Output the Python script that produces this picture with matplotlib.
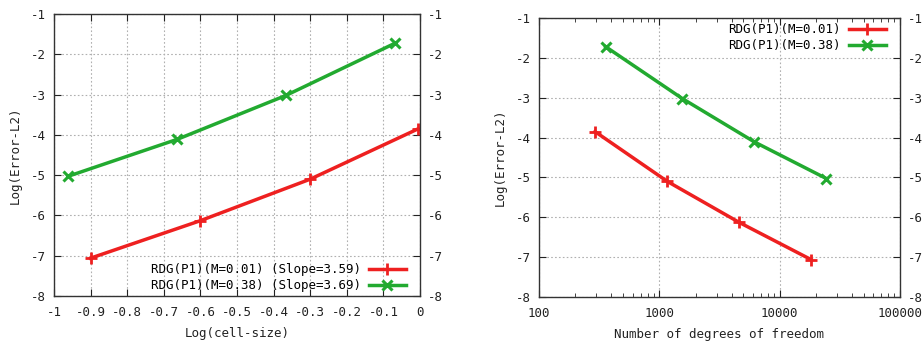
import matplotlib
matplotlib.use("Agg")
import matplotlib.pyplot as plt
from matplotlib.ticker import MultipleLocator, LogLocator, NullFormatter, FixedLocator

# Data
h_m001 = [-0.90, -0.60, -0.30, -0.005]
e_m001 = [-7.06, -6.13, -5.10, -3.85]
h_m038 = [-0.962, -0.663, -0.366, -0.067]
e_m038 = [-5.03, -4.11, -3.02, -1.72]

dof_m001 = [18200, 4620, 1165, 292]
dof_m038 = [24500, 6170, 1550, 358]

labels_left = ["RDG(P1)(M=0.01) (Slope=3.59)", "RDG(P1)(M=0.38) (Slope=3.69)"]
labels_right = ["RDG(P1)(M=0.01)", "RDG(P1)(M=0.38)"]
xticks_left = [-1, -0.9, -0.8, -0.7, -0.6, -0.5, -0.4, -0.3, -0.2, -0.1, 0]
xticks_right = [100, 1000, 10000, 100000]

RED = "#ee2020"
GREEN = "#22aa30"
FONT = "DejaVu Sans Mono"
FS = 9

plt.rcParams['font.family'] = [FONT]
plt.rcParams['font.size'] = FS
plt.rcParams['axes.unicode_minus'] = False

fig = plt.figure(figsize=(9.23, 3.42), dpi=100)

ax1 = fig.add_axes([54/923, 1-296/342, (420-54)/923, (296-14)/342])
ax2 = fig.add_axes([539/923, 1-297/342, (900-539)/923, (297-18)/342])

def style(ax):
    ax.grid(True, which='major', color='#b0b0b0', linestyle=(0, (1.5, 2)), linewidth=0.8)
    ax.tick_params(which='both', direction='in', top=True, right=True,
                   labelright=True, labelsize=FS, colors='#222222')
    ax.tick_params(axis='x', pad=7)
    ax.tick_params(axis='y', pad=6)
    ax.tick_params(which='major', length=5)
    ax.tick_params(which='minor', length=3)
    for s in ax.spines.values():
        s.set_linewidth(1.0)
        s.set_color('#333333')
    ax.set_ylim(-8, -1)
    ax.yaxis.set_major_locator(MultipleLocator(1))
    ax.set_ylabel("Log(Error-L2)", fontsize=FS, color='#222222')

lw = 2.5
ax1.plot(h_m001, e_m001, color=RED, lw=lw, marker='+', ms=8, mew=2, label=labels_left[0])
ax1.plot(h_m038, e_m038, color=GREEN, lw=lw, marker='x', ms=7, mew=2.2, label=labels_left[1])
style(ax1)
ax1.set_xlim(-1, 0)
ax1.set_xticks(xticks_left)
ax1.set_xticklabels([("%g" % t) for t in xticks_left])
ax1.set_xlabel("Log(cell-size)", fontsize=FS, color='#222222', labelpad=6)
ax1.legend(loc='lower right', frameon=False, markerfirst=False, fontsize=FS,
           handlelength=3, handletextpad=0.6, borderaxespad=0.0, labelspacing=0.25,
           borderpad=0.0, bbox_to_anchor=(1 - 14/366, 4/282))

ax2.plot(dof_m001, e_m001, color=RED, lw=lw, marker='+', ms=8, mew=2, label=labels_right[0])
ax2.plot(dof_m038, e_m038, color=GREEN, lw=lw, marker='x', ms=7, mew=2.2, label=labels_right[1])
ax2.set_xscale('log')
style(ax2)
ax2.set_xlim(100, 100000)
ax2.xaxis.set_major_locator(FixedLocator(xticks_right))
ax2.set_xticklabels([str(t) for t in xticks_right])
ax2.xaxis.set_minor_locator(LogLocator(base=10, subs=range(2, 10)))
ax2.xaxis.set_minor_formatter(NullFormatter())
ax2.set_xlabel("Number of degrees of freedom", fontsize=FS, color='#222222', labelpad=6)
ax2.legend(loc='upper right', frameon=False, markerfirst=False, fontsize=FS,
           handlelength=3, handletextpad=0.6, borderaxespad=0.0, labelspacing=0.25,
           borderpad=0.0, bbox_to_anchor=(1 - 14/361, 1 - 5/279))

ax1.yaxis.set_label_coords(-0.087, 0.5)
ax2.yaxis.set_label_coords(-0.089, 0.5)

fig.savefig("out.png", dpi=100)
